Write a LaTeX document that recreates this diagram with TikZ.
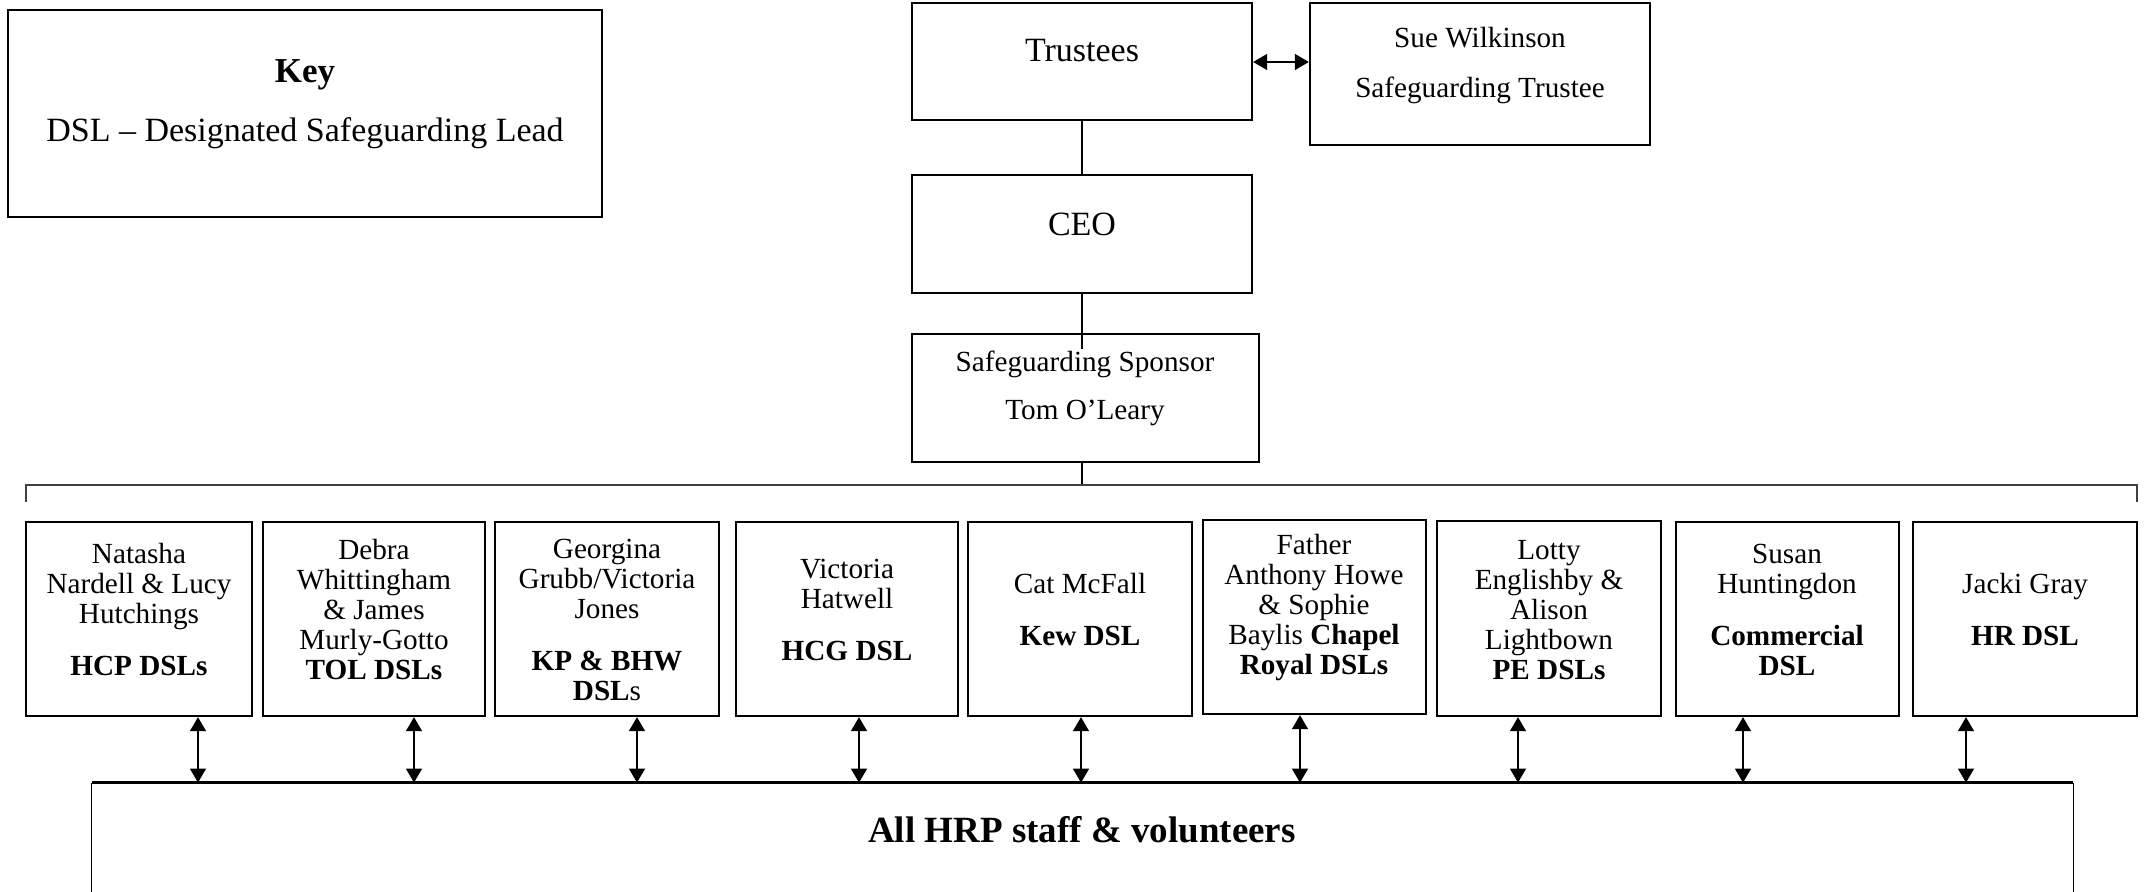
\documentclass[tikz,border=0pt]{standalone}
\usepackage{fontspec}
\setmainfont{Liberation Serif}
\usetikzlibrary{arrows.meta,fit}
\begin{document}
\begin{tikzpicture}[x=0.5pt,y=-0.5pt,
  box/.style={draw, line width=1.15pt, inner sep=0pt},
  txt/.style={align=center, inner sep=0pt, font=\fontsize{14.6}{15}\selectfont},
  big/.style={align=center, inner sep=0pt, font=\fontsize{17}{20}\selectfont},
  conn/.style={line width=0.7pt},
  bracket/.style={line width=0.8pt, draw=black!75},
  dbl/.style={line width=0.7pt, {Triangle[length=7pt,width=8pt]}-{Triangle[length=7pt,width=8pt]}},
]
\useasboundingbox (0,0) rectangle (2144,892);
\clip (0,0) rectangle (2144,892);

% Key
\node[box, fit={(8,10) (602,217)}] (key) {};
\node[inner sep=0pt, font=\bfseries\fontsize{17.5}{20}\selectfont] (keyt) at (305,75) {Key};
\node[big] (keyd) at (305,133) {DSL – Designated Safeguarding Lead};

% Top chain
\node[box, fit={(912,3) (1252,120)}] (trustees) {};
\node[big] (trusteest) at (1082,51) {Trustees};
\node[box, fit={(1310,3) (1650,145)}] (sue) {};
\node[txt] (suet1) at (1480,38) {Sue Wilkinson};
\node[txt] (suet2) at (1480,90) {Safeguarding Trustee};
\node[box, fit={(912,175) (1252,293)}] (ceo) {};
\node[big] (ceot) at (1082,224) {CEO};
\node[box, fit={(912,334) (1259,462)}] (sponsor) {};
\node[txt] (sponsort1) at (1085,364) {Safeguarding Sponsor};
\node[txt] (sponsort2) at (1085,413) {Tom O’Leary};

\coordinate (tsy) at (0,62);
\draw[dbl] (trustees.east |- tsy) -- (sue.west |- tsy);
\draw[conn] (trustees.south) -- (ceo.north);
\coordinate (ceoend) at (1082,349);
\draw[conn] (ceo.south) -- (ceoend);

% bracket
\coordinate (brkL) at (26,485);
\coordinate (brkR) at (2137,485);
\coordinate (brkLe) at (26,502);
\coordinate (brkRe) at (2137,502);
\draw[conn] (sponsor.south -| ceo.south) -- (ceo.south |- brkL);
\draw[bracket] (brkLe) -- (brkL) -- (brkR) -- (brkRe);

% DSL boxes
\node[box, fit={(26,522) (252,716)}] (d1) {};
\node[box, fit={(263,522) (485,716)}] (d2) {};
\node[box, fit={(495,522) (719,716)}] (d3) {};
\node[box, fit={(736,522) (958,716)}] (d4) {};
\node[box, fit={(968,522) (1192,716)}] (d5) {};
\node[box, fit={(1203,520) (1426,714)}] (d6) {};
\node[box, fit={(1437,521) (1661,716)}] (d7) {};
\node[box, fit={(1676,522) (1899,716)}] (d8) {};
\node[box, fit={(1913,522) (2137,716)}] (d9) {};

\node[txt] (t1) at (139,610) {Natasha\\Nardell \& Lucy\\Hutchings\\[11pt]\textbf{HCP DSLs}};
\node[txt] (t2) at (374,610) {Debra\\Whittingham\\\& James\\Murly-Gotto\\\textbf{TOL DSLs}};
\node[txt] (t3) at (607,620) {Georgina\\Grubb/Victoria\\Jones\\[11pt]\textbf{KP \& BHW}\\\textbf{DSL}s};
\node[txt] (t4) at (847,610) {Victoria\\Hatwell\\[11pt]\textbf{HCG DSL}};
\node[txt] (t5) at (1080,610) {Cat McFall\\[11pt]\textbf{Kew DSL}};
\node[txt] (t6) at (1314,608) {Father\\Anthony Howe\\\& Sophie\\Baylis \textbf{Chapel}\\\textbf{Royal DSLs}};
\node[txt] (t7) at (1549,610) {Lotty\\Englishby \&\\Alison\\Lightbown\\\textbf{PE DSLs}};
\node[txt] (t8) at (1787,610) {Susan\\Huntingdon\\[11pt]\textbf{Commercial}\\\textbf{DSL}};
\node[txt] (t9) at (2025,610) {Jacki Gray\\[11pt]\textbf{HR DSL}};

% All staff box
\node[inner sep=0pt, fit={(92,783) (2073,1000)}] (all) {};
\draw[line width=0.8pt] (all.south west) -- (all.north west);
\draw[line width=0.8pt] (all.south east) -- (all.north east);
\draw[line width=1.6pt] (all.north west) -- (all.north east);
\node[inner sep=0pt, font=\bfseries\fontsize{18.5}{22}\selectfont] (allt) at (1082,830) {All HRP staff \& volunteers};

% arrows
\foreach \i/\x in {1/198,2/414,3/637,4/859,5/1081,6/1300,7/1518,8/1743,9/1966}{
  \coordinate (a\i) at (\x,0);
  \draw[dbl] (d\i.south -| a\i) -- (all.north -| a\i);
}
\end{tikzpicture}
\end{document}
